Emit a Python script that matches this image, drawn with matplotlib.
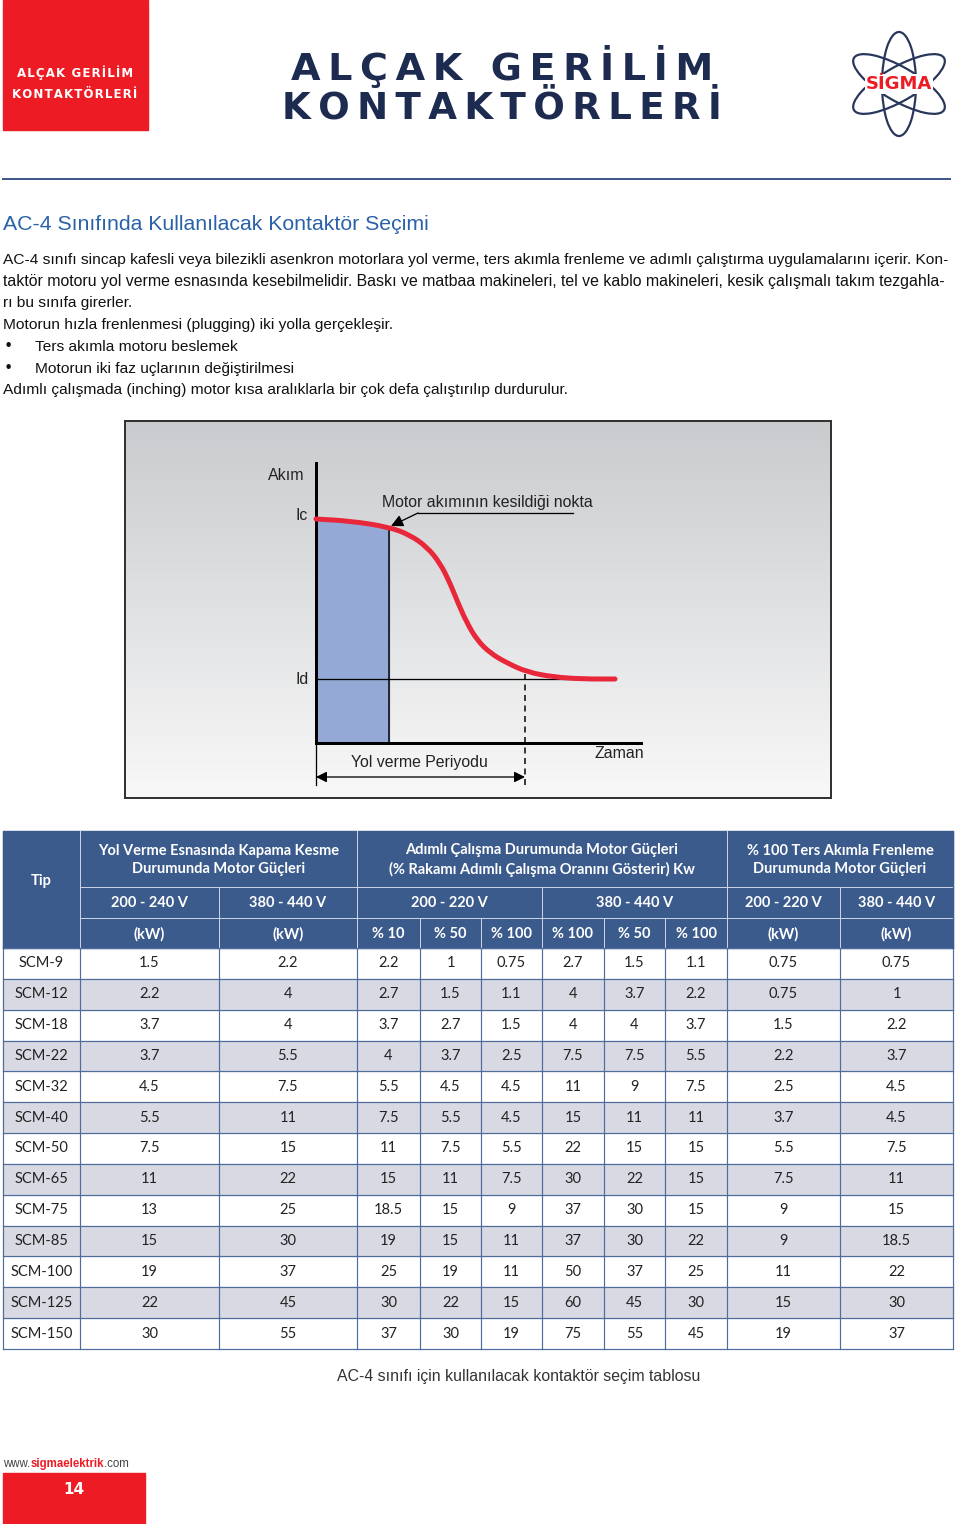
import matplotlib
matplotlib.use('Agg')
import matplotlib.pyplot as plt
from matplotlib.patches import Rectangle, Ellipse, PathPatch
from matplotlib.path import Path
from matplotlib.colors import LinearSegmentedColormap
from matplotlib import font_manager
import numpy as np

names = {f.name for f in font_manager.fontManager.ttflist}
NARROW = 'Liberation Sans Narrow' if 'Liberation Sans Narrow' in names else 'Liberation Sans'
TBL = 'Lato' if 'Lato' in names else 'DejaVu Sans'

# ---- page texts ----
corner_lines = ['ALÇAK GERİLİM', 'KONTAKTÖRLERİ']
title_lines = ['ALÇAK GERİLİM', 'KONTAKTÖRLERİ']
section_title = 'AC-4 Sınıfında Kullanılacak Kontaktör Seçimi'
body_lines = [
    'AC-4 sınıfı sincap kafesli veya bilezikli asenkron motorlara yol verme, ters akımla frenleme ve adımlı çalıştırma uygulamalarını içerir. Kon-',
    'taktör motoru yol verme esnasında kesebilmelidir. Baskı ve matbaa makineleri, tel ve kablo makineleri, kesik çalışmalı takım tezgahla-',
    'rı bu sınıfa girerler.',
    'Motorun hızla frenlenmesi (plugging) iki yolla gerçekleşir.',
]
bullets = ['Ters akımla motoru beslemek', 'Motorun iki faz uçlarının değiştirilmesi']
last_line = 'Adımlı çalışmada (inching) motor kısa aralıklarla bir çok defa çalıştırılıp durdurulur.'
caption = 'AC-4 sınıfı için kullanılacak kontaktör seçim tablosu'

# ---- diagram: motor current vs time ----
curve_t = [0, 34, 73, 94, 111, 124, 134, 142, 151, 161, 174, 191, 211, 237, 267, 299]
curve_i = [224, 222, 216, 208, 196, 180, 160, 140, 120, 103, 90, 80, 71, 66, 64, 64]
i_d = 64
t_cut = 73
t_period = 209

# ---- table ----
tip = ['SCM-9', 'SCM-12', 'SCM-18', 'SCM-22', 'SCM-32', 'SCM-40', 'SCM-50',
       'SCM-65', 'SCM-75', 'SCM-85', 'SCM-100', 'SCM-125', 'SCM-150']
start_200_240 = ['1.5', '2.2', '3.7', '3.7', '4.5', '5.5', '7.5', '11', '13', '15', '19', '22', '30']
start_380_440 = ['2.2', '4', '4', '5.5', '7.5', '11', '15', '22', '25', '30', '37', '45', '55']
inch_220_10 = ['2.2', '2.7', '3.7', '4', '5.5', '7.5', '11', '15', '18.5', '19', '25', '30', '37']
inch_220_50 = ['1', '1.5', '2.7', '3.7', '4.5', '5.5', '7.5', '11', '15', '15', '19', '22', '30']
inch_220_100 = ['0.75', '1.1', '1.5', '2.5', '4.5', '4.5', '5.5', '7.5', '9', '11', '11', '15', '19']
inch_440_100a = ['2.7', '4', '4', '7.5', '11', '15', '22', '30', '37', '37', '50', '60', '75']
inch_440_50 = ['1.5', '3.7', '4', '7.5', '9', '11', '15', '22', '30', '30', '37', '45', '55']
inch_440_100b = ['1.1', '2.2', '3.7', '5.5', '7.5', '11', '15', '15', '15', '22', '25', '30', '45']
brake_220 = ['0.75', '0.75', '1.5', '2.2', '2.5', '3.7', '5.5', '7.5', '9', '9', '11', '15', '19']
brake_440 = ['0.75', '1', '2.2', '3.7', '4.5', '4.5', '7.5', '11', '15', '18.5', '22', '30', '37']
group_headers = ['Yol Verme Esnasında Kapama Kesme\nDurumunda Motor Güçleri',
                 'Adımlı Çalışma Durumunda Motor Güçleri\n(% Rakamı Adımlı Çalışma Oranını Gösterir) Kw',
                 '% 100 Ters Akımla Frenleme\nDurumunda Motor Güçleri']
voltage_headers = ['200 - 240 V', '380 - 440 V', '200 - 220 V', '380 - 440 V', '200 - 220 V', '380 - 440 V']
unit_headers = ['(kW)', '(kW)', '% 10', '% 50', '% 100', '% 100', '% 50', '% 100', '(kW)', '(kW)']

RED = '#ed1c24'
NAVY = '#1d2b50'
HEAD = '#3b5b8c'
PX = 0.72  # points per pixel

fig = plt.figure(figsize=(9.6, 15.24), dpi=100)
ax = fig.add_axes([0, 0, 1, 1])
ax.set_xlim(0, 960)
ax.set_ylim(1524, 0)
ax.axis('off')
renderer = fig.canvas.get_renderer()


def fit(txt, width):
    # shrink/grow the font so the text spans the width seen in the reference
    w = txt.get_window_extent(renderer).width
    txt.set_fontsize(txt.get_fontsize() * width / w)
    return txt.get_fontsize()


# corner red block
ax.add_patch(Rectangle((3, 0), 145, 130, color=RED))
for k, s in enumerate(corner_lines):
    ax.text(75, 73 + k * 22, '\u200a'.join(s), color='white', fontsize=8.5, fontweight='bold',
            ha='center', va='center', family='DejaVu Sans')

# main title
for k, s in enumerate(title_lines):
    t = ax.text(502, 67 + k * 41, '\u2009'.join(s), color=NAVY, fontsize=29, fontweight='bold',
                ha='center', va='center', family='DejaVu Sans')
    fit(t, 422 if k == 0 else 440)

# logo
for ang in (0, 60, -60):
    ax.add_patch(Ellipse((899, 84), 34, 104, angle=ang, fill=False, ec='#27365a', lw=2.2 * PX))
ax.text(899, 84, 'SİGMA', color=RED, fontsize=13, fontweight='bold', ha='center', va='center',
        family='DejaVu Sans', bbox=dict(fc='white', ec='none', pad=0.5))

ax.plot([3, 950], [179, 179], color='#40588a', lw=2 * PX)

# section text
t = ax.text(3, 224, section_title, color='#2a62a8', fontsize=16, ha='left', va='center', family=NARROW)
fit(t, 429)
bodyk = dict(fontsize=12, ha='left', va='center', family=NARROW, color='#111')
sizes = []
for k, s in enumerate(body_lines):
    t = ax.text(3, 260 + k * 21.7, s, **bodyk)
    if k < 2:
        sizes.append(fit(t, 945))
    else:
        t.set_fontsize(min(sizes))
fs = min(sizes)
for k, s in enumerate(bullets):
    y = 260 + (len(body_lines) + k) * 21.7
    ax.text(8, y, '•', fontsize=fs, ha='center', va='center', family='DejaVu Sans', color='#111')
    ax.text(35, y, s, **{**bodyk, 'fontsize': fs})
ax.text(3, 260 + 6 * 21.7, last_line, **{**bodyk, 'fontsize': fs})

# ---- diagram ----
dax = fig.add_axes([125 / 960, (1524 - 798) / 1524, 706 / 960, 377 / 1524])
dax.set_xlim(-191, 515)
dax.set_ylim(-55, 322)
dax.set_xticks([])
dax.set_yticks([])
for sp in dax.spines.values():
    sp.set_color('#333333')
    sp.set_linewidth(2 * PX)
grad = LinearSegmentedColormap.from_list('g', ['#f8f8f8', '#c9cbce'])
dax.imshow(np.linspace(0, 1, 256).reshape(-1, 1), extent=(-191, 515, -55, 322), aspect='auto',
           cmap=grad, origin='lower', zorder=0)
dax.fill_between(curve_t[:3], 0, curve_i[:3], color='#95a9d7', zorder=1)
dax.plot([0, 299], [i_d, i_d], color='black', lw=1.3 * PX, zorder=2)
dax.plot([t_cut, t_cut], [0, curve_i[2]], color='black', lw=1.5 * PX, zorder=2)
dax.plot([t_period, t_period], [-42, 73], color='black', lw=1.5 * PX, dashes=(4, 3), zorder=2)
dax.plot([0, 0], [-42, 0], color='black', lw=1.3 * PX, zorder=2)
dax.plot([0, 0], [0, 280], color='black', lw=3 * PX, zorder=3)
dax.plot([0, 325], [0, 0], color='black', lw=3 * PX, zorder=3)

# smooth red curve: quadratic bezier through the midpoints of the read points
pts = np.column_stack([curve_t, curve_i]).astype(float)
mids = (pts[:-1] + pts[1:]) / 2
verts = [pts[0], mids[0]]
codes = [Path.MOVETO, Path.LINETO]
for k in range(1, len(pts) - 1):
    verts += [pts[k], mids[k]]
    codes += [Path.CURVE3, Path.CURVE3]
verts.append(pts[-1])
codes.append(Path.LINETO)
dax.add_patch(PathPatch(Path(verts, codes), fill=False, ec='#e8283a', lw=5 * PX,
                        capstyle='round', joinstyle='round', zorder=4))

dax.annotate('', xy=(0, -34), xytext=(t_period, -34),
             arrowprops=dict(arrowstyle='<|-|>', color='black', lw=1.3 * PX, mutation_scale=16,
                             shrinkA=0, shrinkB=0), zorder=3)
dax.plot([102, 257], [230, 230], color='black', lw=1.3 * PX, zorder=3)
dax.annotate('', xy=(t_cut + 2, curve_i[2] + 1), xytext=(102, 230),
             arrowprops=dict(arrowstyle='-|>', color='black', lw=1.3 * PX, mutation_scale=18,
                             shrinkA=0, shrinkB=0), zorder=5)
dkw = dict(fontsize=12, family=NARROW, color='#222', ha='center', va='center')
dfs = fit(dax.text(171, 240, 'Motor akımının kesildiği nokta', **dkw), 212)
dkw['fontsize'] = dfs
dax.text(-30, 268, 'Akım', **dkw)
dax.text(-14, 228, 'Ic', **dkw)
dax.text(-14, i_d, 'Id', **dkw)
dax.text(103, -20, 'Yol verme Periyodu', **dkw)
dax.text(303, -10, 'Zaman', **dkw)

# ---- table ----
edges = [3, 80, 219, 357, 420, 481, 542, 604, 665, 727, 840, 953]
hy = [831, 887, 918, 948]
rh = (1349 - 948) / len(tip)
cols = [start_200_240, start_380_440, inch_220_10, inch_220_50, inch_220_100,
        inch_440_100a, inch_440_50, inch_440_100b, brake_220, brake_440]
grid = '#4f6d9c'
ax.add_patch(Rectangle((edges[0], hy[0]), edges[-1] - edges[0], hy[3] - hy[0], color=HEAD))
wl = dict(color='#c8d2e4', lw=1 * PX)
for x in (80, 357, 727):
    ax.plot([x, x], [hy[0], hy[1]], **wl)
for x in (80, 219, 357, 542, 727, 840):
    ax.plot([x, x], [hy[1], hy[2]], **wl)
for x in edges[1:-1]:
    ax.plot([x, x], [hy[2], hy[3]], **wl)
for y in (hy[1], hy[2]):
    ax.plot([80, 953], [y, y], **wl)
hkw = dict(color='white', fontsize=10.5, fontweight='bold', family=TBL, ha='center', va='center',
           linespacing=1.35)
ax.text(41, 881, 'Tip', **hkw)
for s, (a, b) in zip(group_headers, [(1, 3), (3, 9), (9, 11)]):
    ax.text((edges[a] + edges[b]) / 2, 860, s, **hkw)
for s, (a, b) in zip(voltage_headers, [(1, 2), (2, 3), (3, 6), (6, 9), (9, 10), (10, 11)]):
    ax.text((edges[a] + edges[b]) / 2, 903, s, **hkw)
for j, s in enumerate(unit_headers):
    ax.text((edges[j + 1] + edges[j + 2]) / 2, 934, s, **hkw)

bkw = dict(color='#222', fontsize=10.5, family=TBL, ha='center', va='center')
for r, name in enumerate(tip):
    y0 = hy[3] + r * rh
    if r % 2 == 1:
        ax.add_patch(Rectangle((edges[0], y0), edges[-1] - edges[0], rh, color='#d9d9e3', zorder=0))
    ax.text((edges[0] + edges[1]) / 2, y0 + rh / 2, name, **bkw)
    for j, col in enumerate(cols):
        ax.text((edges[j + 1] + edges[j + 2]) / 2, y0 + rh / 2, col[r], **bkw)
for r in range(len(tip) + 1):
    y = hy[3] + r * rh
    ax.plot([edges[0], edges[-1]], [y, y], color=grid, lw=1.2 * PX)
for x in edges:
    ax.plot([x, x], [hy[3], 1349], color=grid, lw=1.2 * PX)
for x in (edges[0], edges[-1]):
    ax.plot([x, x], [hy[0], hy[3]], color=HEAD, lw=1.2 * PX)

fit(ax.text(519, 1376, caption, fontsize=12.5, family=NARROW, color='#333', ha='center', va='center'), 365)

# footer
fk = dict(fontsize=8.3, family=NARROW)
t1 = ax.text(3, 1464, 'www.', color='#444', ha='left', va='center', **fk)
t2 = ax.annotate('sigmaelektrik', xy=(1, 0), xycoords=t1, va='bottom', ha='left',
                 color=RED, fontweight='bold', **fk)
ax.annotate('.com', xy=(1, 0), xycoords=t2, va='bottom', ha='left', color='#444', **fk)
ax.add_patch(Rectangle((3, 1473), 142, 51, color=RED))
ax.text(74, 1489, '14', color='white', fontsize=11, fontweight='bold', ha='center', va='center',
        family='DejaVu Sans')

fig.savefig('out.png', dpi=100)
